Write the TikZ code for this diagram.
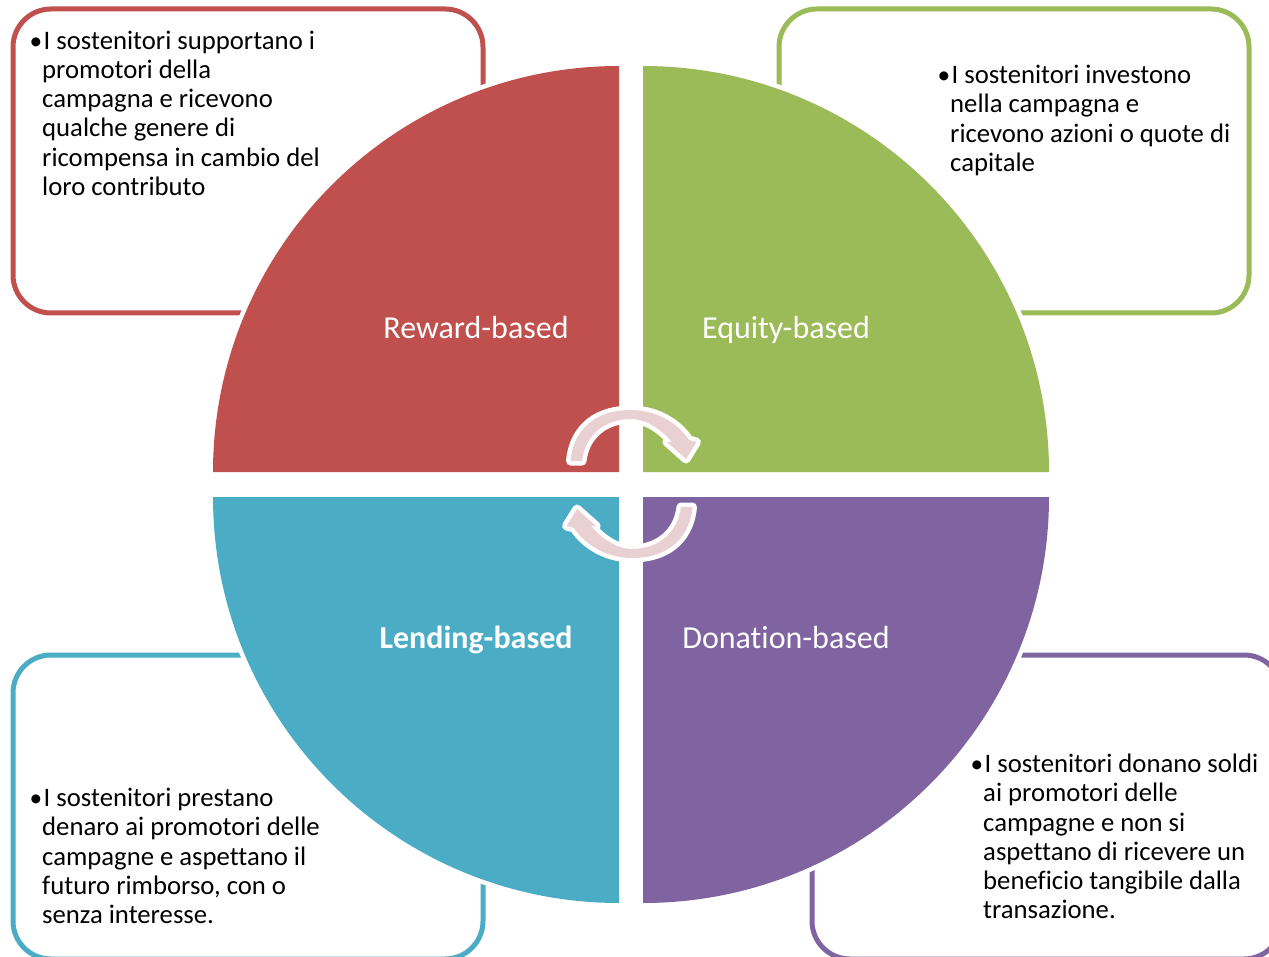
\documentclass[tikz,border=0pt]{standalone}
\usepackage{fontspec}
\setmainfont{Carlito}[Ligatures=NoCommon]
\definecolor{redq}{HTML}{C0504D}
\definecolor{greenq}{HTML}{9BBB59}
\definecolor{blueq}{HTML}{4BACC6}
\definecolor{purpleq}{HTML}{8064A2}
\definecolor{pinkarrow}{HTML}{E9D0D2}
\newcommand{\bul}{\llap{\scalebox{0.95}{\textbullet}}\hspace*{1.5pt}}
\begin{document}
\begin{tikzpicture}[
        x=1pt, y=-1pt,
        infobox/.style={draw, line width=5pt, fill=white, rounded corners=38pt},
        quadrant/.style={preaction={draw=white, line width=9pt}},
        infotext/.style={anchor=north west, inner sep=0pt, align=left, text=black,
            font=\fontsize{26.7}{29.25}\selectfont},
        quadlabel/.style={text=white, inner sep=0pt, text height=22pt, text depth=7pt,
            font=\fontsize{32}{34}\selectfont},
        turnarrow/.style={fill=pinkarrow, preaction={draw=white, line width=9pt, line join=round}}
    ]
        \useasboundingbox (0,0) rectangle (1269,957);
        \clip (0,0) rectangle (1269,957);
        % Boxes behind the quadrants
        \foreach \bx/\by/\bcolor in {13/9/redq, 779/9/greenq, 13/655/blueq, 812/655/purpleq} {
            \draw[infobox, draw=\bcolor] (\bx,\by) rectangle ++(470,304);
        }
        \node[infotext] (rewardtext) at (42,30.5) {\bul I sostenitori supportano i\\promotori della\\campagna e ricevono\\qualche genere di\\ricompensa in cambio del\\loro contributo};
        \node[infotext] (equitytext) at (950,65) {\bul I sostenitori investono\\nella campagna e\\ricevono azioni o quote di\\capitale};
        \node[infotext] (lendingtext) at (42,788) {\bul I sostenitori prestano\\denaro ai promotori delle\\campagne e aspettano il\\futuro rimborso, con o\\senza interesse.};
        \node[infotext] (donationtext) at (983,754) {\bul I sostenitori donano soldi\\ai promotori delle\\campagne e non si\\aspettano di ricevere un\\beneficio tangibile dalla\\transazione.};
        % Quadrants
        \foreach \qx/\qy/\qangle/\qcolor in {619/472/180/redq, 643/472/270/greenq, 619/497/90/blueq, 643/497/0/purpleq} {
            \fill[quadrant, fill=\qcolor] (\qx,\qy) -- ++(\qangle:406) arc (\qangle:\qangle+90:406) -- cycle;
        }
        \node[quadlabel] (reward) at (476,331) {Reward-based};
        \node[quadlabel] (equity) at (786,331) {Equity-based};
        \node[quadlabel] (lending) at (476,641) {\bfseries Lending-based};
        \node[quadlabel] (donation) at (786,641) {Donation-based};
        % Turning arrows in the middle
        \foreach \turn in {0,180} {
            \fill[turnarrow, rotate around={\turn:(631.5,484)}] (570.5,461)
                .. controls (574,425) and (600,410) .. (631,410)
                .. controls (655,410) and (677,422) .. (689,440)
                -- (696.5,442) -- (686,459) -- (667,442) -- (672,442)
                .. controls (660,428) and (645,419) .. (631,419)
                .. controls (605,419) and (585,435) .. (582,461) -- cycle;
        }
    \end{tikzpicture}
\end{document}
